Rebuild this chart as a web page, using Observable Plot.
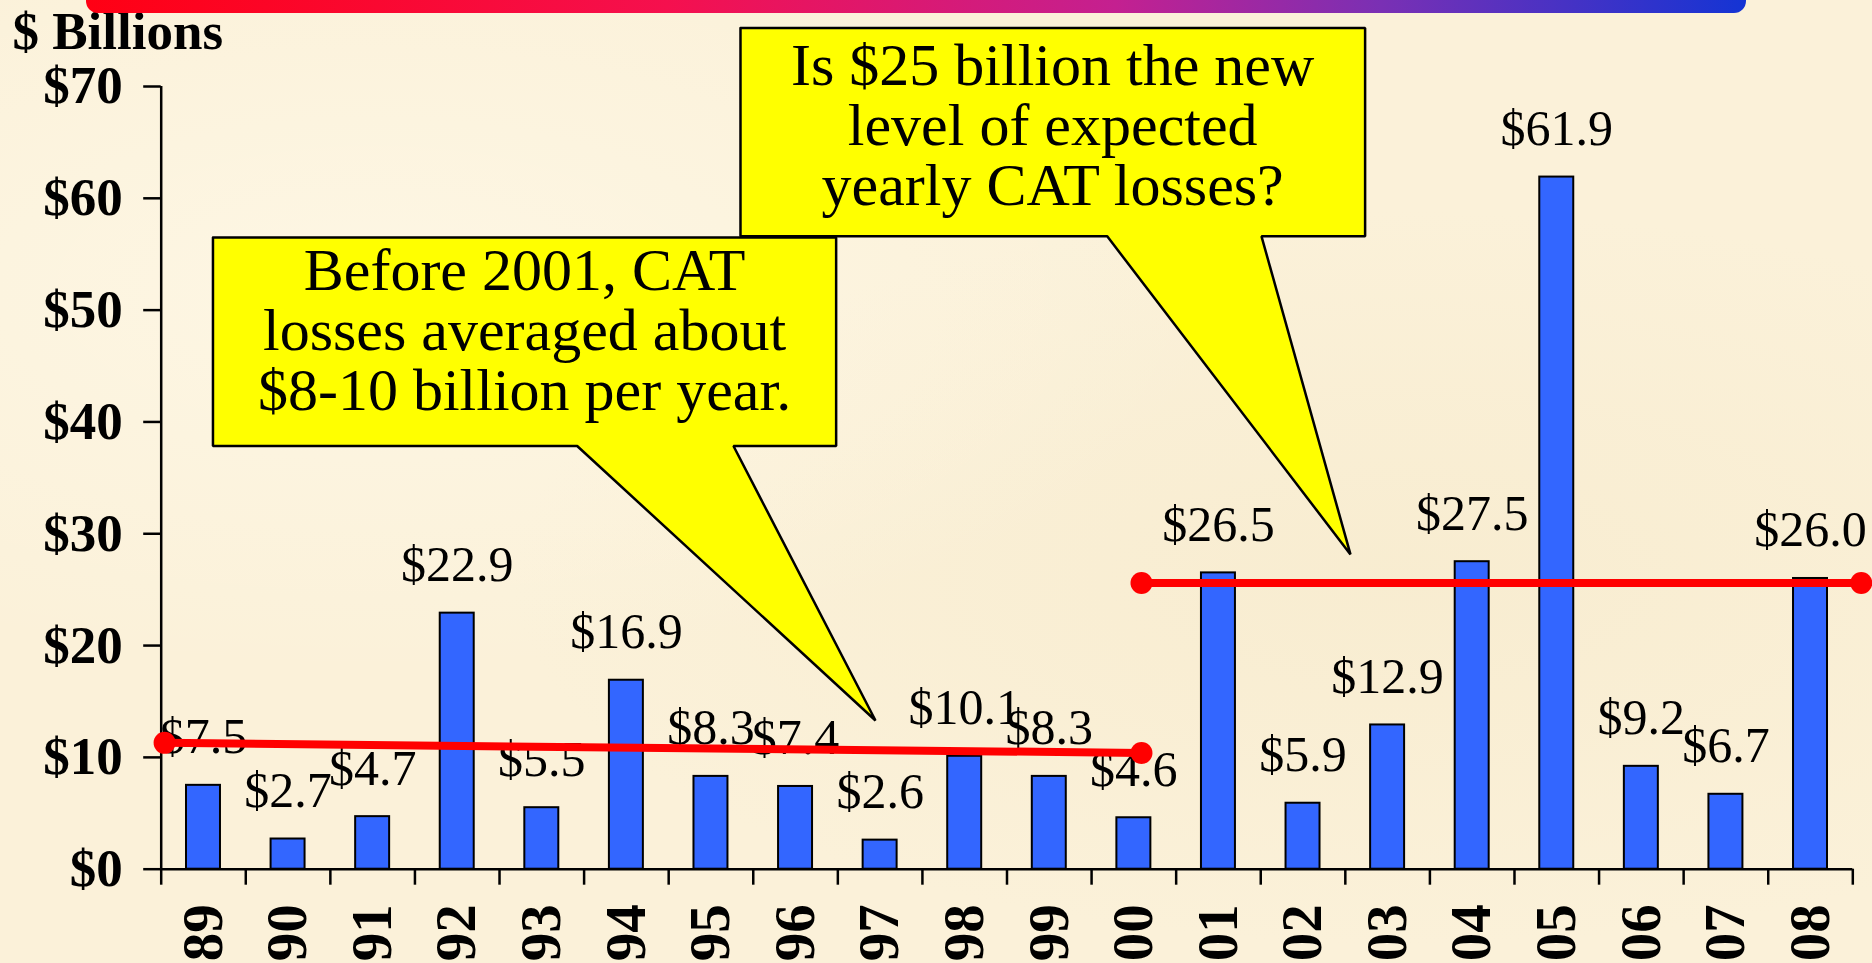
<!DOCTYPE html>
<html>
<head>
<meta charset="utf-8">
<script src="https://cdn.jsdelivr.net/npm/d3@7"></script>
<script src="https://cdn.jsdelivr.net/npm/@observablehq/plot@0.6"></script>
<style>
  html, body { margin: 0; padding: 0; overflow: hidden; }
  body {
    width: 1872px; height: 963px; position: relative;
    background-color: #FBF1D9;
    background-image:
      radial-gradient(ellipse at 20% 30%, rgba(255,250,235,0.6), rgba(255,250,235,0) 40%),
      radial-gradient(ellipse at 75% 60%, rgba(245,232,200,0.5), rgba(245,232,200,0) 45%);
  }
  #bar {
    position: absolute; left: 86px; top: 0; width: 1660px; height: 13px;
    border-radius: 0 0 12px 12px;
    background: linear-gradient(90deg, #FF0014 0%, #F5104E 35%, #C42090 62%, #7A30B4 78%, #1434D4 100%);
  }
  #chart { position: absolute; left: 0; top: 0; }
</style>
</head>
<body>
<div id="chart"></div>
<div id="bar"></div>
<script>
// ---- data ----
const years = ["89","90","91","92","93","94","95","96","97","98","99","00","01","02","03","04","05","06","07","08"];
const losses = [7.5, 2.7, 4.7, 22.9, 5.5, 16.9, 8.3, 7.4, 2.6, 10.1, 8.3, 4.6, 26.5, 5.9, 12.9, 27.5, 61.9, 9.2, 6.7, 26.0];
const yTicks = [0, 10, 20, 30, 40, 50, 60, 70];
const yAxisTitle = "$ Billions";

// trend lines (x in year-index units, y in $ billions)
const trend1X = [-0.46, 11.09];
const trend1Y = [11.3, 10.4];
const trend2X = [11.09, 19.6];
const trend2Y = [25.6, 25.6];

// callouts (outline in year-index / $ billions units)
const callout1X = [0.112, 7.48, 7.48, 6.266, 7.945, 4.418, 0.112, 0.112];
const callout1Y = [56.5, 56.5, 37.85, 37.85, 13.3, 37.85, 37.85, 56.5];
const callout1Text = "Before 2001, CAT\nlosses averaged about\n$8-10 billion per year.";
const callout1Anchor = [3.796, 41.07];
const callout2X = [6.349, 13.734, 13.734, 12.509, 13.561, 10.685, 6.349, 6.349];
const callout2Y = [75.24, 75.24, 56.6, 56.6, 28.15, 56.6, 56.6, 75.24];
const callout2Text = "Is $25 billion the new\nlevel of expected\nyearly CAT losses?";
const callout2Anchor = [10.04, 59.37];

// ---- derived tables ----
const data = years.map((y, i) => ({i, year: y, value: losses[i]}));
const idx = years.map((_, i) => i);
const bounds = d3.range(years.length + 1).map(i => i - 0.5);
const trend = [
  ...trend1X.map((x, k) => ({id: 1, x, y: trend1Y[k]})),
  ...trend2X.map((x, k) => ({id: 2, x, y: trend2Y[k]}))
];
const callouts = [
  ...callout1X.map((x, k) => ({id: 1, x, y: callout1Y[k]})),
  ...callout2X.map((x, k) => ({id: 2, x, y: callout2Y[k]}))
];
const calloutTexts = [
  {x: callout1Anchor[0], y: callout1Anchor[1], text: callout1Text},
  {x: callout2Anchor[0], y: callout2Anchor[1], text: callout2Text}
];

const serif = "'Liberation Serif', 'Times New Roman', Times, serif";

const chart = Plot.plot({
  width: 1872,
  height: 963,
  marginLeft: 160.7,
  marginRight: 19.7,
  marginTop: 86,
  marginBottom: 94.3,
  x: {domain: [-0.5, 19.5], axis: null},
  y: {domain: [0, 70], axis: null},
  style: {background: "transparent", fontFamily: serif, color: "black", overflow: "visible"},
  marks: [
    // bars
    Plot.rectY(data, {x1: d => d.i - 0.5, x2: d => d.i + 0.5, y: "value", insetLeft: 25.3, insetRight: 25.3,
      fill: "#3366FF", stroke: "black", strokeWidth: 2}),
    // axes lines
    Plot.ruleY([0], {stroke: "black", strokeWidth: 2.5}),
    Plot.ruleX([-0.5], {y1: 0, y2: 70, stroke: "black", strokeWidth: 2.5}),
    Plot.axisY(yTicks, {tickFormat: d => "$" + d, tickSize: 17.5, tickPadding: 21, fontSize: 53,
      fontWeight: "bold", strokeWidth: 2.5, fill: "black"}),
    Plot.axisX(bounds, {tickSize: 16, tickFormat: () => "", strokeWidth: 2.5}),
    Plot.axisX(idx, {tickSize: 0, tickPadding: 35, tickRotate: -90, tickFormat: i => years[i],
      fontSize: 57, fontWeight: "bold", fill: "black"}),
    Plot.text([yAxisTitle], {frameAnchor: "top-left", text: d => d, dx: -148.7, dy: -38, lineAnchor: "bottom",
      textAnchor: "start", fontSize: 53, fontWeight: "bold", fill: "black"}),
    // value labels
    Plot.text(data, {x: "i", y: "value", text: d => "$" + d.value.toFixed(1), dy: -32, lineAnchor: "bottom",
      fontSize: 50, fill: "black"}),
    // trend lines
    Plot.line(trend, {x: "x", y: "y", z: "id", stroke: "#FF0000", strokeWidth: 8}),
    Plot.dot(trend, {x: "x", y: "y", r: 11, fill: "#FF0000", stroke: "none"}),
    // callouts
    Plot.line(callouts, {x: "x", y: "y", z: "id", fill: "#FFFF00", stroke: "black", strokeWidth: 2.5,
      strokeLinejoin: "miter"}),
    Plot.text(calloutTexts, {x: "x", y: "y", text: "text", lineAnchor: "bottom", lineHeight: 1.0,
      fontSize: 60, fill: "black"})
  ]
});
document.getElementById("chart").appendChild(chart);
</script>
</body>
</html>
